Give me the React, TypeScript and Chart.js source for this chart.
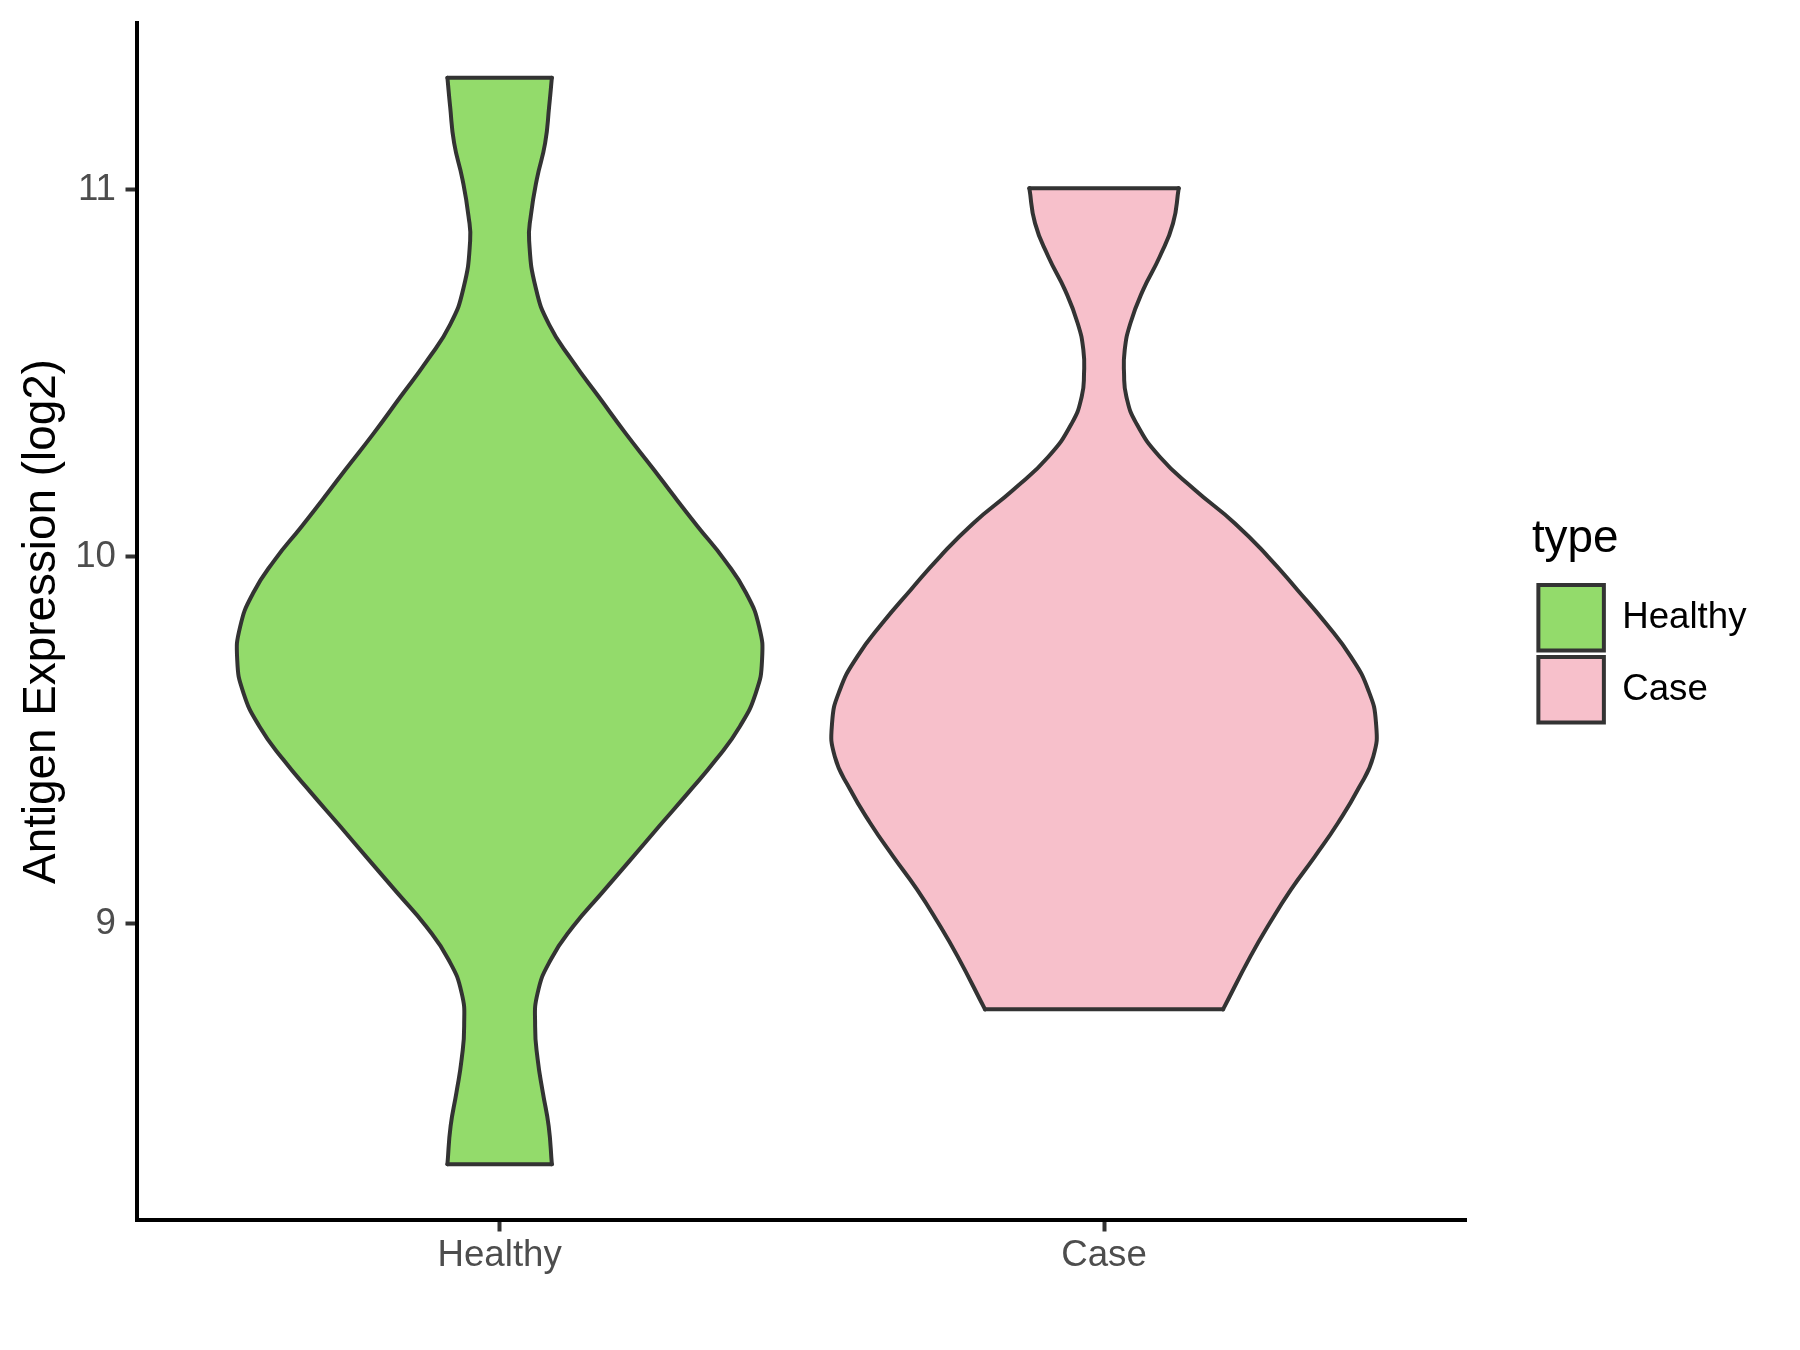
import React, { useEffect, useRef } from 'react';
import { Chart, registerables } from 'chart.js';

Chart.register(...registerables);

// ---- data ----
const categories = ['Healthy', 'Case'];
const categoryPositions = [1, 2];
const yTicks = [9, 10, 11];
const legendTitle = 'type';
const yTitle = 'Antigen Expression (log2)';

// violin outline: expression values (top -> bottom) and half-widths (x units)
const healthyY = [11.305, 11.226, 11.127, 11.028, 10.929, 10.86, 10.731, 10.632, 10.533, 10.434, 10.335, 10.236, 10.173, 10.082, 9.991, 9.9, 9.809, 9.719, 9.628, 9.537, 9.446, 9.356, 9.265, 9.174, 9.084, 8.993, 8.902, 8.811, 8.72, 8.63, 8.539, 8.448, 8.344];
const healthyWidth = [0.0864, 0.0819, 0.0753, 0.0615, 0.0516, 0.0488, 0.0599, 0.0819, 0.1204, 0.1646, 0.2088, 0.2556, 0.2846, 0.3276, 0.372, 0.408, 0.4293, 0.4342, 0.4238, 0.3974, 0.3577, 0.3118, 0.2639, 0.2167, 0.1696, 0.1221, 0.0847, 0.0629, 0.0587, 0.0629, 0.0715, 0.0811, 0.0864];
const caseY = [11.004, 10.908, 10.817, 10.726, 10.635, 10.563, 10.499, 10.436, 10.363, 10.272, 10.182, 10.091, 10.0, 9.909, 9.818, 9.728, 9.637, 9.546, 9.455, 9.365, 9.274, 9.183, 9.093, 9.002, 8.911, 8.766];
const caseWidth = [0.1236, 0.1141, 0.0921, 0.0645, 0.0435, 0.0342, 0.0331, 0.0369, 0.0534, 0.0921, 0.15, 0.2162, 0.2713, 0.32, 0.367, 0.408, 0.437, 0.45, 0.4455, 0.42, 0.387, 0.349, 0.3095, 0.2745, 0.2425, 0.1969];

const fillColors = ['#93DB6B', '#F7C0CB'];
const xMin = 0.4;
const xMax = 2.6;
const yMin = 8.192;
const yMax = 11.454;

// ---- style ----
const FONT = "'Liberation Sans', Arial, Helvetica, sans-serif";
const OUTLINE = '#333333';
const LINE_W = 4;
const TICK_FONT = 36.67;
const TITLE_FONT = 45.83;
const PAD_R = 43.5;

function violinDatasets(center: number, ys: number[], ws: number[], color: string, label: string) {
  const left = ys.map((y, i) => ({ x: center - ws[i], y }));
  const right = ys.map((y, i) => ({ x: center + ws[i], y }));
  const n = ys.length - 1;
  const common = {
    borderColor: OUTLINE,
    borderWidth: LINE_W,
    pointRadius: 0,
    pointHoverRadius: 0,
    borderCapStyle: 'round',
    borderJoinStyle: 'round',
    backgroundColor: color,
  };
  return [
    { ...common, label: label + ' left', data: left, tension: 0.5, fill: false },
    { ...common, label: label + ' right', data: right, tension: 0.5, fill: '-1' },
    { ...common, label: label + ' top', data: [left[0], right[0]], tension: 0, fill: false },
    { ...common, label: label + ' bottom', data: [left[n], right[n]], tension: 0, fill: false },
  ];
}

export default function App() {
  const canvasRef = useRef<HTMLCanvasElement | null>(null);

  useEffect(() => {
    if (!canvasRef.current) return;
    const datasets = [
      ...violinDatasets(categoryPositions[0], healthyY, healthyWidth, fillColors[0], categories[0]),
      ...violinDatasets(categoryPositions[1], caseY, caseWidth, fillColors[1], categories[1]),
    ];
    const tickGrid = {
      display: true,
      drawOnChartArea: false,
      drawTicks: true,
      tickLength: 11.5,
      tickWidth: 4,
      tickColor: OUTLINE,
    };
    const noPad = (s: any) => {
      s.paddingTop = 0;
      s.paddingBottom = 0;
      s.paddingLeft = 0;
      s.paddingRight = 0;
    };
    const chart = new Chart(canvasRef.current, {
      type: 'line',
      data: { datasets: datasets as any },
      options: {
        indexAxis: 'y',
        animation: false,
        responsive: false,
        maintainAspectRatio: false,
        events: [],
        layout: { padding: { top: 23, left: 0, right: PAD_R, bottom: 0 } },
        plugins: {
          filler: { drawTime: 'beforeDatasetsDraw', propagate: false },
          tooltip: { enabled: false },
          legend: {
            display: true,
            position: 'right',
            align: 'center',
            fullSize: false,
            title: {
              display: true,
              text: legendTitle,
              position: 'start',
              color: '#000000',
              font: { family: FONT, size: TITLE_FONT },
              padding: { top: 2, bottom: 7.5 },
            },
            labels: {
              boxWidth: 65.5,
              boxHeight: 65.5,
              padding: 6.5,
              color: '#000000',
              font: { family: FONT, size: TICK_FONT },
              generateLabels: () =>
                categories.map((c, i) => ({
                  text: c,
                  fillStyle: fillColors[i],
                  strokeStyle: OUTLINE,
                  lineWidth: LINE_W,
                  hidden: false,
                  datasetIndex: i * 4,
                })),
            },
          },
        } as any,
        scales: {
          x: {
            type: 'linear',
            position: 'bottom',
            min: xMin,
            max: xMax,
            afterBuildTicks: (s: any) => {
              s.ticks = categoryPositions.map((v) => ({ value: v }));
            },
            afterFit: (s: any) => {
              s.height = 130;
              noPad(s);
            },
            ticks: {
              callback: (_v: any, i: number) => categories[i],
              color: '#4D4D4D',
              font: { family: FONT, size: TICK_FONT },
              padding: 2,
              autoSkip: false,
              maxRotation: 0,
              minRotation: 0,
            },
            grid: tickGrid,
            border: { display: true, color: '#000000', width: 4 },
          },
          y: {
            type: 'linear',
            position: 'left',
            min: yMin,
            max: yMax,
            afterBuildTicks: (s: any) => {
              s.ticks = yTicks.map((v) => ({ value: v }));
            },
            afterFit: (s: any) => {
              s.width = 137;
              noPad(s);
            },
            title: {
              display: true,
              text: yTitle,
              color: '#000000',
              font: { family: FONT, size: TITLE_FONT },
              padding: { top: 14.5, bottom: 0 },
            },
            ticks: {
              callback: (v: any) => String(v),
              color: '#4D4D4D',
              font: { family: FONT, size: TICK_FONT },
              padding: 9.5,
            },
            grid: tickGrid,
            border: { display: true, color: '#000000', width: 4 },
          },
          yR: {
            type: 'linear',
            axis: 'y',
            position: 'right',
            display: true,
            ticks: { display: false },
            grid: { display: false },
            border: { display: false },
            afterFit: (s: any) => {
              s.width = 65.2;
              noPad(s);
            },
          },
        } as any,
      },
    } as any);
    return () => chart.destroy();
  }, []);

  return (
    <div style={{ position: 'absolute', left: 0, top: 0, width: 1800, height: 1350, background: '#ffffff' }}>
      <canvas ref={canvasRef} width={1800} height={1350} style={{ width: 1800, height: 1350, display: 'block' }} />
    </div>
  );
}
